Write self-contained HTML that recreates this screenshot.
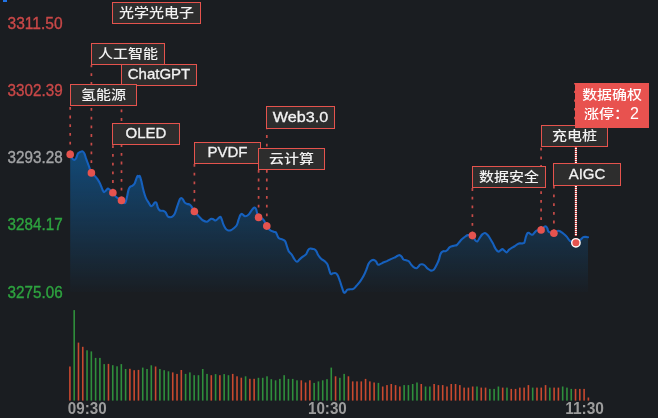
<!DOCTYPE html>
<html><head><meta charset="utf-8"><title>分时图</title>
<style>
html,body{margin:0;padding:0;background:#1a1d21;}
body{width:658px;height:418px;overflow:hidden;position:relative;}
svg{position:absolute;left:0;top:0;display:block;will-change:transform;}
.lt{font-family:"Liberation Sans","Noto Sans CJK SC",sans-serif;font-size:15px;fill:#f2f2f2;text-anchor:middle;}
.cj{font-weight:500;}
.rt{font-family:"Liberation Sans","Noto Sans CJK SC",sans-serif;font-size:15px;fill:#ffffff;text-anchor:middle;}
.yl{font-family:"Liberation Sans","Noto Sans CJK SC",sans-serif;font-size:15.6px;}
.tl{font-family:"Liberation Sans","Noto Sans CJK SC",sans-serif;font-size:16px;font-weight:bold;fill:#9c9c9c;}
</style></head>
<body>
<svg width="658" height="418" viewBox="0 0 658 418">
<defs><linearGradient id="ag" x1="0" y1="150" x2="0" y2="292" gradientUnits="userSpaceOnUse"><stop offset="0" stop-color="#0e69b4" stop-opacity="0.6"/><stop offset="1" stop-color="#0e69b4" stop-opacity="0.02"/></linearGradient><filter id="lb" x="-5%" y="-5%" width="110%" height="110%"><feGaussianBlur stdDeviation="0.5"/></filter></defs>
<rect x="3" y="0" width="4" height="2" fill="#2173e6"/>
<path d="M70.20,154.40 C70.60,155.15 71.87,158.00 72.60,158.90 C73.33,159.80 74.00,159.95 74.60,159.80 C75.20,159.65 75.63,159.07 76.20,158.00 C76.77,156.93 77.35,154.40 78.00,153.40 C78.65,152.40 79.32,152.33 80.10,152.00 C80.88,151.67 81.97,151.10 82.70,151.40 C83.43,151.70 83.90,152.50 84.50,153.80 C85.10,155.10 85.60,157.22 86.30,159.20 C87.00,161.18 87.85,163.42 88.70,165.70 C89.55,167.98 90.40,171.20 91.40,172.90 C92.40,174.60 93.72,174.90 94.70,175.90 C95.68,176.90 96.40,177.60 97.30,178.90 C98.20,180.20 99.23,181.90 100.10,183.70 C100.97,185.50 101.85,188.30 102.50,189.70 C103.15,191.10 103.40,192.00 104.00,192.10 C104.60,192.20 105.37,190.87 106.10,190.30 C106.83,189.73 107.27,188.28 108.40,188.70 C109.53,189.12 111.55,191.37 112.90,192.80 C114.25,194.23 115.07,196.03 116.50,197.30 C117.93,198.57 120.07,199.45 121.50,200.40 C122.93,201.35 124.15,203.75 125.10,203.00 C126.05,202.25 126.63,198.10 127.20,195.90 C127.77,193.70 128.00,191.32 128.50,189.80 C129.00,188.28 129.57,187.45 130.20,186.80 C130.83,186.15 131.58,186.40 132.30,185.90 C133.02,185.40 133.92,184.73 134.50,183.80 C135.08,182.87 135.32,181.58 135.80,180.30 C136.28,179.02 136.93,176.68 137.40,176.10 C137.87,175.52 138.20,176.80 138.60,176.80 C139.00,176.80 139.33,175.37 139.80,176.10 C140.27,176.83 140.85,179.05 141.40,181.20 C141.95,183.35 142.53,186.70 143.10,189.00 C143.67,191.30 144.28,193.40 144.80,195.00 C145.32,196.60 145.55,197.30 146.20,198.60 C146.85,199.90 147.92,201.55 148.70,202.80 C149.48,204.05 150.18,205.75 150.90,206.10 C151.62,206.45 152.33,205.52 153.00,204.90 C153.67,204.28 154.32,202.72 154.90,202.40 C155.48,202.08 155.98,202.07 156.50,203.00 C157.02,203.93 157.43,206.75 158.00,208.00 C158.57,209.25 159.07,210.03 159.90,210.50 C160.73,210.97 162.07,210.50 163.00,210.80 C163.93,211.10 164.77,211.47 165.50,212.30 C166.23,213.13 166.78,215.00 167.40,215.80 C168.02,216.60 168.38,216.95 169.20,217.10 C170.02,217.25 171.37,217.28 172.30,216.70 C173.23,216.12 173.97,215.37 174.80,213.60 C175.63,211.83 176.47,208.48 177.30,206.10 C178.13,203.72 179.13,200.65 179.80,199.30 C180.47,197.95 180.78,198.00 181.30,198.00 C181.82,198.00 182.32,198.53 182.90,199.30 C183.48,200.07 184.07,201.83 184.80,202.60 C185.53,203.37 186.47,203.57 187.30,203.90 C188.13,204.23 189.05,204.12 189.80,204.60 C190.55,205.08 191.07,205.70 191.80,206.80 C192.53,207.90 193.30,209.92 194.20,211.20 C195.10,212.48 196.20,213.40 197.20,214.50 C198.20,215.60 199.20,216.80 200.20,217.80 C201.20,218.80 202.10,219.85 203.20,220.50 C204.30,221.15 205.80,221.75 206.80,221.70 C207.80,221.65 208.45,220.70 209.20,220.20 C209.95,219.70 210.62,218.85 211.30,218.70 C211.98,218.55 212.57,219.00 213.30,219.30 C214.03,219.60 214.90,220.63 215.70,220.50 C216.50,220.37 217.30,219.10 218.10,218.50 C218.90,217.90 219.90,216.77 220.50,216.90 C221.10,217.03 221.20,218.00 221.70,219.30 C222.20,220.60 222.85,223.15 223.50,224.70 C224.15,226.25 224.82,227.65 225.60,228.60 C226.38,229.55 227.33,230.13 228.20,230.40 C229.07,230.67 229.87,230.57 230.80,230.20 C231.73,229.83 232.82,229.02 233.80,228.20 C234.78,227.38 235.92,226.68 236.70,225.30 C237.48,223.92 237.90,221.60 238.50,219.90 C239.10,218.20 239.70,216.10 240.30,215.10 C240.90,214.10 241.30,213.70 242.10,213.90 C242.90,214.10 244.00,216.20 245.10,216.30 C246.20,216.40 247.62,215.50 248.70,214.50 C249.78,213.50 250.68,211.45 251.60,210.30 C252.52,209.15 253.43,207.77 254.20,207.60 C254.97,207.43 255.50,207.70 256.20,209.30 C256.90,210.90 257.23,215.52 258.40,217.20 C259.57,218.88 261.78,217.92 263.20,219.40 C264.62,220.88 265.73,224.28 266.90,226.10 C268.07,227.92 269.00,229.33 270.20,230.30 C271.40,231.27 273.13,231.53 274.10,231.90 C275.07,232.27 275.23,231.48 276.00,232.50 C276.77,233.52 277.63,236.85 278.70,238.00 C279.77,239.15 281.33,238.87 282.40,239.40 C283.47,239.93 284.35,240.07 285.10,241.20 C285.85,242.33 286.30,244.53 286.90,246.20 C287.50,247.87 287.87,249.77 288.70,251.20 C289.53,252.63 290.98,253.52 291.90,254.80 C292.82,256.08 293.37,257.73 294.20,258.90 C295.03,260.07 296.00,261.72 296.90,261.80 C297.80,261.88 298.62,260.27 299.60,259.40 C300.58,258.53 301.73,257.43 302.80,256.60 C303.87,255.77 305.08,255.53 306.00,254.40 C306.92,253.27 307.55,250.78 308.30,249.80 C309.05,248.82 309.82,248.65 310.50,248.50 C311.18,248.35 311.78,248.78 312.40,248.90 C313.02,249.02 313.55,248.83 314.20,249.20 C314.85,249.57 315.62,250.08 316.30,251.10 C316.98,252.12 317.50,254.02 318.30,255.30 C319.10,256.58 320.05,257.83 321.10,258.80 C322.15,259.77 323.55,260.18 324.60,261.10 C325.65,262.02 326.63,262.83 327.40,264.30 C328.17,265.77 328.63,268.28 329.20,269.90 C329.77,271.52 330.18,273.43 330.80,274.00 C331.42,274.57 332.08,273.45 332.90,273.30 C333.72,273.15 334.88,272.75 335.70,273.10 C336.52,273.45 337.10,274.08 337.80,275.40 C338.50,276.72 339.22,279.03 339.90,281.00 C340.58,282.97 341.25,285.28 341.90,287.20 C342.55,289.12 343.22,291.68 343.80,292.50 C344.38,293.32 344.78,292.57 345.40,292.10 C346.02,291.63 346.68,290.17 347.50,289.70 C348.32,289.23 349.33,289.43 350.30,289.30 C351.27,289.17 352.27,289.48 353.30,288.90 C354.33,288.32 355.38,287.00 356.50,285.80 C357.62,284.60 358.83,283.32 360.00,281.70 C361.17,280.08 362.45,278.07 363.50,276.10 C364.55,274.13 365.50,271.87 366.30,269.90 C367.10,267.93 367.62,265.75 368.30,264.30 C368.98,262.85 369.58,261.93 370.40,261.20 C371.22,260.47 372.28,259.88 373.20,259.90 C374.12,259.92 375.10,260.50 375.90,261.30 C376.70,262.10 377.22,264.27 378.00,264.70 C378.78,265.13 379.63,264.30 380.60,263.90 C381.57,263.50 382.73,262.77 383.80,262.30 C384.87,261.83 385.85,261.63 387.00,261.10 C388.15,260.57 389.45,259.68 390.70,259.10 C391.95,258.52 393.33,258.17 394.50,257.60 C395.67,257.03 396.82,256.10 397.70,255.70 C398.58,255.30 399.13,255.02 399.80,255.20 C400.47,255.38 401.08,256.08 401.70,256.80 C402.32,257.52 402.75,258.93 403.50,259.50 C404.25,260.07 405.32,259.90 406.20,260.20 C407.08,260.50 408.00,260.62 408.80,261.30 C409.60,261.98 410.20,263.33 411.00,264.30 C411.80,265.27 412.67,266.45 413.60,267.10 C414.53,267.75 415.80,268.28 416.60,268.20 C417.40,268.12 417.83,267.18 418.40,266.60 C418.97,266.02 419.38,265.08 420.00,264.70 C420.62,264.32 421.30,264.17 422.10,264.30 C422.90,264.43 424.00,264.90 424.80,265.50 C425.60,266.10 426.37,267.35 426.90,267.90 C427.43,268.45 427.33,268.35 428.00,268.80 C428.67,269.25 429.95,270.43 430.90,270.60 C431.85,270.77 432.87,270.52 433.70,269.80 C434.53,269.08 435.23,267.48 435.90,266.30 C436.57,265.12 437.17,263.90 437.70,262.70 C438.23,261.50 438.68,260.42 439.10,259.10 C439.52,257.78 439.78,255.93 440.20,254.80 C440.62,253.67 441.07,252.90 441.60,252.30 C442.13,251.70 442.73,251.38 443.40,251.20 C444.07,251.02 444.93,251.38 445.60,251.20 C446.27,251.02 446.80,250.70 447.40,250.10 C448.00,249.50 448.43,248.25 449.20,247.60 C449.97,246.95 451.18,246.52 452.00,246.20 C452.82,245.88 453.30,245.90 454.10,245.70 C454.90,245.50 456.00,245.52 456.80,245.00 C457.60,244.48 458.02,243.58 458.90,242.60 C459.78,241.62 461.03,240.12 462.10,239.10 C463.17,238.08 464.32,237.17 465.30,236.50 C466.28,235.83 466.77,235.25 468.00,235.10 C469.23,234.95 471.55,234.80 472.70,235.60 C473.85,236.40 474.13,238.92 474.90,239.90 C475.67,240.88 476.50,241.85 477.30,241.50 C478.10,241.15 478.87,238.98 479.70,237.80 C480.53,236.62 481.42,235.20 482.30,234.40 C483.18,233.60 484.07,232.87 485.00,233.00 C485.93,233.13 486.98,234.17 487.90,235.20 C488.82,236.23 489.65,237.80 490.50,239.20 C491.35,240.60 492.15,241.98 493.00,243.60 C493.85,245.22 494.72,247.57 495.60,248.90 C496.48,250.23 497.50,251.35 498.30,251.60 C499.10,251.85 499.72,250.82 500.40,250.40 C501.08,249.98 501.75,249.08 502.40,249.10 C503.05,249.12 503.58,249.95 504.30,250.50 C505.02,251.05 505.90,252.55 506.70,252.40 C507.50,252.25 508.22,250.38 509.10,249.60 C509.98,248.82 511.05,248.27 512.00,247.70 C512.95,247.13 513.93,246.77 514.80,246.20 C515.67,245.63 516.40,244.77 517.20,244.30 C518.00,243.83 518.72,243.55 519.60,243.40 C520.48,243.25 521.70,243.57 522.50,243.40 C523.30,243.23 523.85,243.45 524.40,242.40 C524.95,241.35 525.32,238.62 525.80,237.10 C526.28,235.58 526.82,234.02 527.30,233.30 C527.78,232.58 528.15,232.67 528.70,232.80 C529.25,232.93 529.97,233.78 530.60,234.10 C531.23,234.42 531.87,234.92 532.50,234.70 C533.13,234.48 533.68,233.52 534.40,232.80 C535.12,232.08 535.67,230.87 536.80,230.40 C537.93,229.93 540.00,230.55 541.20,230.00 C542.40,229.45 543.22,227.70 544.00,227.10 C544.78,226.50 545.33,226.17 545.90,226.40 C546.47,226.63 546.92,227.58 547.40,228.50 C547.88,229.42 547.68,231.13 548.80,231.90 C549.92,232.67 552.55,233.28 554.10,233.10 C555.65,232.92 556.95,231.02 558.10,230.80 C559.25,230.58 559.98,231.22 561.00,231.80 C562.02,232.38 563.18,233.42 564.20,234.30 C565.22,235.18 566.15,236.02 567.10,237.10 C568.05,238.18 568.48,239.85 569.90,240.80 C571.32,241.75 573.77,243.05 575.60,242.80 C577.43,242.55 579.62,240.25 580.90,239.30 C582.18,238.35 582.48,237.50 583.30,237.10 C584.12,236.70 585.02,236.87 585.80,236.90 C586.58,236.93 587.63,237.23 588.00,237.30 L588,292 L70.2,292 Z" fill="url(#ag)"/>
<path d="M70.20,154.40 C70.60,155.15 71.87,158.00 72.60,158.90 C73.33,159.80 74.00,159.95 74.60,159.80 C75.20,159.65 75.63,159.07 76.20,158.00 C76.77,156.93 77.35,154.40 78.00,153.40 C78.65,152.40 79.32,152.33 80.10,152.00 C80.88,151.67 81.97,151.10 82.70,151.40 C83.43,151.70 83.90,152.50 84.50,153.80 C85.10,155.10 85.60,157.22 86.30,159.20 C87.00,161.18 87.85,163.42 88.70,165.70 C89.55,167.98 90.40,171.20 91.40,172.90 C92.40,174.60 93.72,174.90 94.70,175.90 C95.68,176.90 96.40,177.60 97.30,178.90 C98.20,180.20 99.23,181.90 100.10,183.70 C100.97,185.50 101.85,188.30 102.50,189.70 C103.15,191.10 103.40,192.00 104.00,192.10 C104.60,192.20 105.37,190.87 106.10,190.30 C106.83,189.73 107.27,188.28 108.40,188.70 C109.53,189.12 111.55,191.37 112.90,192.80 C114.25,194.23 115.07,196.03 116.50,197.30 C117.93,198.57 120.07,199.45 121.50,200.40 C122.93,201.35 124.15,203.75 125.10,203.00 C126.05,202.25 126.63,198.10 127.20,195.90 C127.77,193.70 128.00,191.32 128.50,189.80 C129.00,188.28 129.57,187.45 130.20,186.80 C130.83,186.15 131.58,186.40 132.30,185.90 C133.02,185.40 133.92,184.73 134.50,183.80 C135.08,182.87 135.32,181.58 135.80,180.30 C136.28,179.02 136.93,176.68 137.40,176.10 C137.87,175.52 138.20,176.80 138.60,176.80 C139.00,176.80 139.33,175.37 139.80,176.10 C140.27,176.83 140.85,179.05 141.40,181.20 C141.95,183.35 142.53,186.70 143.10,189.00 C143.67,191.30 144.28,193.40 144.80,195.00 C145.32,196.60 145.55,197.30 146.20,198.60 C146.85,199.90 147.92,201.55 148.70,202.80 C149.48,204.05 150.18,205.75 150.90,206.10 C151.62,206.45 152.33,205.52 153.00,204.90 C153.67,204.28 154.32,202.72 154.90,202.40 C155.48,202.08 155.98,202.07 156.50,203.00 C157.02,203.93 157.43,206.75 158.00,208.00 C158.57,209.25 159.07,210.03 159.90,210.50 C160.73,210.97 162.07,210.50 163.00,210.80 C163.93,211.10 164.77,211.47 165.50,212.30 C166.23,213.13 166.78,215.00 167.40,215.80 C168.02,216.60 168.38,216.95 169.20,217.10 C170.02,217.25 171.37,217.28 172.30,216.70 C173.23,216.12 173.97,215.37 174.80,213.60 C175.63,211.83 176.47,208.48 177.30,206.10 C178.13,203.72 179.13,200.65 179.80,199.30 C180.47,197.95 180.78,198.00 181.30,198.00 C181.82,198.00 182.32,198.53 182.90,199.30 C183.48,200.07 184.07,201.83 184.80,202.60 C185.53,203.37 186.47,203.57 187.30,203.90 C188.13,204.23 189.05,204.12 189.80,204.60 C190.55,205.08 191.07,205.70 191.80,206.80 C192.53,207.90 193.30,209.92 194.20,211.20 C195.10,212.48 196.20,213.40 197.20,214.50 C198.20,215.60 199.20,216.80 200.20,217.80 C201.20,218.80 202.10,219.85 203.20,220.50 C204.30,221.15 205.80,221.75 206.80,221.70 C207.80,221.65 208.45,220.70 209.20,220.20 C209.95,219.70 210.62,218.85 211.30,218.70 C211.98,218.55 212.57,219.00 213.30,219.30 C214.03,219.60 214.90,220.63 215.70,220.50 C216.50,220.37 217.30,219.10 218.10,218.50 C218.90,217.90 219.90,216.77 220.50,216.90 C221.10,217.03 221.20,218.00 221.70,219.30 C222.20,220.60 222.85,223.15 223.50,224.70 C224.15,226.25 224.82,227.65 225.60,228.60 C226.38,229.55 227.33,230.13 228.20,230.40 C229.07,230.67 229.87,230.57 230.80,230.20 C231.73,229.83 232.82,229.02 233.80,228.20 C234.78,227.38 235.92,226.68 236.70,225.30 C237.48,223.92 237.90,221.60 238.50,219.90 C239.10,218.20 239.70,216.10 240.30,215.10 C240.90,214.10 241.30,213.70 242.10,213.90 C242.90,214.10 244.00,216.20 245.10,216.30 C246.20,216.40 247.62,215.50 248.70,214.50 C249.78,213.50 250.68,211.45 251.60,210.30 C252.52,209.15 253.43,207.77 254.20,207.60 C254.97,207.43 255.50,207.70 256.20,209.30 C256.90,210.90 257.23,215.52 258.40,217.20 C259.57,218.88 261.78,217.92 263.20,219.40 C264.62,220.88 265.73,224.28 266.90,226.10 C268.07,227.92 269.00,229.33 270.20,230.30 C271.40,231.27 273.13,231.53 274.10,231.90 C275.07,232.27 275.23,231.48 276.00,232.50 C276.77,233.52 277.63,236.85 278.70,238.00 C279.77,239.15 281.33,238.87 282.40,239.40 C283.47,239.93 284.35,240.07 285.10,241.20 C285.85,242.33 286.30,244.53 286.90,246.20 C287.50,247.87 287.87,249.77 288.70,251.20 C289.53,252.63 290.98,253.52 291.90,254.80 C292.82,256.08 293.37,257.73 294.20,258.90 C295.03,260.07 296.00,261.72 296.90,261.80 C297.80,261.88 298.62,260.27 299.60,259.40 C300.58,258.53 301.73,257.43 302.80,256.60 C303.87,255.77 305.08,255.53 306.00,254.40 C306.92,253.27 307.55,250.78 308.30,249.80 C309.05,248.82 309.82,248.65 310.50,248.50 C311.18,248.35 311.78,248.78 312.40,248.90 C313.02,249.02 313.55,248.83 314.20,249.20 C314.85,249.57 315.62,250.08 316.30,251.10 C316.98,252.12 317.50,254.02 318.30,255.30 C319.10,256.58 320.05,257.83 321.10,258.80 C322.15,259.77 323.55,260.18 324.60,261.10 C325.65,262.02 326.63,262.83 327.40,264.30 C328.17,265.77 328.63,268.28 329.20,269.90 C329.77,271.52 330.18,273.43 330.80,274.00 C331.42,274.57 332.08,273.45 332.90,273.30 C333.72,273.15 334.88,272.75 335.70,273.10 C336.52,273.45 337.10,274.08 337.80,275.40 C338.50,276.72 339.22,279.03 339.90,281.00 C340.58,282.97 341.25,285.28 341.90,287.20 C342.55,289.12 343.22,291.68 343.80,292.50 C344.38,293.32 344.78,292.57 345.40,292.10 C346.02,291.63 346.68,290.17 347.50,289.70 C348.32,289.23 349.33,289.43 350.30,289.30 C351.27,289.17 352.27,289.48 353.30,288.90 C354.33,288.32 355.38,287.00 356.50,285.80 C357.62,284.60 358.83,283.32 360.00,281.70 C361.17,280.08 362.45,278.07 363.50,276.10 C364.55,274.13 365.50,271.87 366.30,269.90 C367.10,267.93 367.62,265.75 368.30,264.30 C368.98,262.85 369.58,261.93 370.40,261.20 C371.22,260.47 372.28,259.88 373.20,259.90 C374.12,259.92 375.10,260.50 375.90,261.30 C376.70,262.10 377.22,264.27 378.00,264.70 C378.78,265.13 379.63,264.30 380.60,263.90 C381.57,263.50 382.73,262.77 383.80,262.30 C384.87,261.83 385.85,261.63 387.00,261.10 C388.15,260.57 389.45,259.68 390.70,259.10 C391.95,258.52 393.33,258.17 394.50,257.60 C395.67,257.03 396.82,256.10 397.70,255.70 C398.58,255.30 399.13,255.02 399.80,255.20 C400.47,255.38 401.08,256.08 401.70,256.80 C402.32,257.52 402.75,258.93 403.50,259.50 C404.25,260.07 405.32,259.90 406.20,260.20 C407.08,260.50 408.00,260.62 408.80,261.30 C409.60,261.98 410.20,263.33 411.00,264.30 C411.80,265.27 412.67,266.45 413.60,267.10 C414.53,267.75 415.80,268.28 416.60,268.20 C417.40,268.12 417.83,267.18 418.40,266.60 C418.97,266.02 419.38,265.08 420.00,264.70 C420.62,264.32 421.30,264.17 422.10,264.30 C422.90,264.43 424.00,264.90 424.80,265.50 C425.60,266.10 426.37,267.35 426.90,267.90 C427.43,268.45 427.33,268.35 428.00,268.80 C428.67,269.25 429.95,270.43 430.90,270.60 C431.85,270.77 432.87,270.52 433.70,269.80 C434.53,269.08 435.23,267.48 435.90,266.30 C436.57,265.12 437.17,263.90 437.70,262.70 C438.23,261.50 438.68,260.42 439.10,259.10 C439.52,257.78 439.78,255.93 440.20,254.80 C440.62,253.67 441.07,252.90 441.60,252.30 C442.13,251.70 442.73,251.38 443.40,251.20 C444.07,251.02 444.93,251.38 445.60,251.20 C446.27,251.02 446.80,250.70 447.40,250.10 C448.00,249.50 448.43,248.25 449.20,247.60 C449.97,246.95 451.18,246.52 452.00,246.20 C452.82,245.88 453.30,245.90 454.10,245.70 C454.90,245.50 456.00,245.52 456.80,245.00 C457.60,244.48 458.02,243.58 458.90,242.60 C459.78,241.62 461.03,240.12 462.10,239.10 C463.17,238.08 464.32,237.17 465.30,236.50 C466.28,235.83 466.77,235.25 468.00,235.10 C469.23,234.95 471.55,234.80 472.70,235.60 C473.85,236.40 474.13,238.92 474.90,239.90 C475.67,240.88 476.50,241.85 477.30,241.50 C478.10,241.15 478.87,238.98 479.70,237.80 C480.53,236.62 481.42,235.20 482.30,234.40 C483.18,233.60 484.07,232.87 485.00,233.00 C485.93,233.13 486.98,234.17 487.90,235.20 C488.82,236.23 489.65,237.80 490.50,239.20 C491.35,240.60 492.15,241.98 493.00,243.60 C493.85,245.22 494.72,247.57 495.60,248.90 C496.48,250.23 497.50,251.35 498.30,251.60 C499.10,251.85 499.72,250.82 500.40,250.40 C501.08,249.98 501.75,249.08 502.40,249.10 C503.05,249.12 503.58,249.95 504.30,250.50 C505.02,251.05 505.90,252.55 506.70,252.40 C507.50,252.25 508.22,250.38 509.10,249.60 C509.98,248.82 511.05,248.27 512.00,247.70 C512.95,247.13 513.93,246.77 514.80,246.20 C515.67,245.63 516.40,244.77 517.20,244.30 C518.00,243.83 518.72,243.55 519.60,243.40 C520.48,243.25 521.70,243.57 522.50,243.40 C523.30,243.23 523.85,243.45 524.40,242.40 C524.95,241.35 525.32,238.62 525.80,237.10 C526.28,235.58 526.82,234.02 527.30,233.30 C527.78,232.58 528.15,232.67 528.70,232.80 C529.25,232.93 529.97,233.78 530.60,234.10 C531.23,234.42 531.87,234.92 532.50,234.70 C533.13,234.48 533.68,233.52 534.40,232.80 C535.12,232.08 535.67,230.87 536.80,230.40 C537.93,229.93 540.00,230.55 541.20,230.00 C542.40,229.45 543.22,227.70 544.00,227.10 C544.78,226.50 545.33,226.17 545.90,226.40 C546.47,226.63 546.92,227.58 547.40,228.50 C547.88,229.42 547.68,231.13 548.80,231.90 C549.92,232.67 552.55,233.28 554.10,233.10 C555.65,232.92 556.95,231.02 558.10,230.80 C559.25,230.58 559.98,231.22 561.00,231.80 C562.02,232.38 563.18,233.42 564.20,234.30 C565.22,235.18 566.15,236.02 567.10,237.10 C568.05,238.18 568.48,239.85 569.90,240.80 C571.32,241.75 573.77,243.05 575.60,242.80 C577.43,242.55 579.62,240.25 580.90,239.30 C582.18,238.35 582.48,237.50 583.30,237.10 C584.12,236.70 585.02,236.87 585.80,236.90 C586.58,236.93 587.63,237.23 588.00,237.30" fill="none" stroke="#1560bd" stroke-width="2.1" stroke-linejoin="round" stroke-linecap="round" filter="url(#lb)"/>
<rect x="69.10" y="366.5" width="1.6" height="34.1" fill="#c9492f"/>
<rect x="73.39" y="310.1" width="1.6" height="90.5" fill="#2f8f3c"/>
<rect x="77.67" y="342.6" width="1.6" height="58.0" fill="#c9492f"/>
<rect x="81.96" y="346.8" width="1.6" height="53.8" fill="#c9492f"/>
<rect x="86.24" y="350.3" width="1.6" height="50.3" fill="#2f8f3c"/>
<rect x="90.53" y="351.4" width="1.6" height="49.2" fill="#2f8f3c"/>
<rect x="94.81" y="357.9" width="1.6" height="42.7" fill="#2f8f3c"/>
<rect x="99.10" y="357.9" width="1.6" height="42.7" fill="#2f8f3c"/>
<rect x="103.38" y="364.1" width="1.6" height="36.5" fill="#2f8f3c"/>
<rect x="107.67" y="363.9" width="1.6" height="36.7" fill="#c9492f"/>
<rect x="111.95" y="365.2" width="1.6" height="35.4" fill="#2f8f3c"/>
<rect x="116.24" y="366.3" width="1.6" height="34.3" fill="#2f8f3c"/>
<rect x="120.52" y="364.1" width="1.6" height="36.5" fill="#2f8f3c"/>
<rect x="124.81" y="369.0" width="1.6" height="31.6" fill="#2f8f3c"/>
<rect x="129.09" y="368.8" width="1.6" height="31.8" fill="#c9492f"/>
<rect x="133.38" y="370.2" width="1.6" height="30.4" fill="#c9492f"/>
<rect x="137.66" y="369.9" width="1.6" height="30.7" fill="#c9492f"/>
<rect x="141.94" y="367.6" width="1.6" height="33.0" fill="#2f8f3c"/>
<rect x="146.23" y="369.0" width="1.6" height="31.6" fill="#2f8f3c"/>
<rect x="150.51" y="365.3" width="1.6" height="35.3" fill="#2f8f3c"/>
<rect x="154.80" y="366.5" width="1.6" height="34.1" fill="#c9492f"/>
<rect x="159.08" y="369.0" width="1.6" height="31.6" fill="#2f8f3c"/>
<rect x="163.37" y="370.2" width="1.6" height="30.4" fill="#2f8f3c"/>
<rect x="167.66" y="371.3" width="1.6" height="29.3" fill="#2f8f3c"/>
<rect x="171.94" y="372.4" width="1.6" height="28.2" fill="#c9492f"/>
<rect x="176.22" y="373.9" width="1.6" height="26.7" fill="#c9492f"/>
<rect x="180.51" y="370.0" width="1.6" height="30.6" fill="#c9492f"/>
<rect x="184.80" y="373.9" width="1.6" height="26.7" fill="#2f8f3c"/>
<rect x="189.08" y="372.4" width="1.6" height="28.2" fill="#2f8f3c"/>
<rect x="193.37" y="375.2" width="1.6" height="25.4" fill="#2f8f3c"/>
<rect x="197.65" y="375.2" width="1.6" height="25.4" fill="#2f8f3c"/>
<rect x="201.94" y="369.0" width="1.6" height="31.6" fill="#2f8f3c"/>
<rect x="206.22" y="373.9" width="1.6" height="26.7" fill="#2f8f3c"/>
<rect x="210.50" y="375.2" width="1.6" height="25.4" fill="#c9492f"/>
<rect x="214.79" y="374.1" width="1.6" height="26.5" fill="#2f8f3c"/>
<rect x="219.07" y="375.2" width="1.6" height="25.4" fill="#c9492f"/>
<rect x="223.36" y="374.1" width="1.6" height="26.5" fill="#2f8f3c"/>
<rect x="227.65" y="375.2" width="1.6" height="25.4" fill="#2f8f3c"/>
<rect x="231.93" y="373.9" width="1.6" height="26.7" fill="#c9492f"/>
<rect x="236.22" y="376.3" width="1.6" height="24.3" fill="#c9492f"/>
<rect x="240.50" y="377.7" width="1.6" height="22.9" fill="#c9492f"/>
<rect x="244.78" y="376.3" width="1.6" height="24.3" fill="#2f8f3c"/>
<rect x="249.07" y="378.8" width="1.6" height="21.8" fill="#c9492f"/>
<rect x="253.35" y="378.8" width="1.6" height="21.8" fill="#c9492f"/>
<rect x="257.64" y="377.8" width="1.6" height="22.8" fill="#2f8f3c"/>
<rect x="261.93" y="377.8" width="1.6" height="22.8" fill="#2f8f3c"/>
<rect x="266.21" y="376.3" width="1.6" height="24.3" fill="#2f8f3c"/>
<rect x="270.50" y="379.2" width="1.6" height="21.4" fill="#2f8f3c"/>
<rect x="274.78" y="380.3" width="1.6" height="20.3" fill="#2f8f3c"/>
<rect x="279.06" y="378.9" width="1.6" height="21.7" fill="#2f8f3c"/>
<rect x="283.35" y="375.2" width="1.6" height="25.4" fill="#2f8f3c"/>
<rect x="287.63" y="378.9" width="1.6" height="21.7" fill="#2f8f3c"/>
<rect x="291.92" y="378.9" width="1.6" height="21.7" fill="#2f8f3c"/>
<rect x="296.20" y="380.3" width="1.6" height="20.3" fill="#2f8f3c"/>
<rect x="300.49" y="380.3" width="1.6" height="20.3" fill="#c9492f"/>
<rect x="304.78" y="382.5" width="1.6" height="18.1" fill="#c9492f"/>
<rect x="309.06" y="380.3" width="1.6" height="20.3" fill="#c9492f"/>
<rect x="313.34" y="382.9" width="1.6" height="17.7" fill="#2f8f3c"/>
<rect x="317.63" y="381.4" width="1.6" height="19.2" fill="#2f8f3c"/>
<rect x="321.92" y="380.3" width="1.6" height="20.3" fill="#2f8f3c"/>
<rect x="326.20" y="379.2" width="1.6" height="21.4" fill="#2f8f3c"/>
<rect x="330.48" y="367.6" width="1.6" height="33.0" fill="#2f8f3c"/>
<rect x="334.77" y="376.3" width="1.6" height="24.3" fill="#c9492f"/>
<rect x="339.06" y="377.8" width="1.6" height="22.8" fill="#2f8f3c"/>
<rect x="343.34" y="373.9" width="1.6" height="26.7" fill="#2f8f3c"/>
<rect x="347.63" y="376.3" width="1.6" height="24.3" fill="#c9492f"/>
<rect x="351.91" y="381.4" width="1.6" height="19.2" fill="#c9492f"/>
<rect x="356.19" y="381.4" width="1.6" height="19.2" fill="#c9492f"/>
<rect x="360.48" y="381.4" width="1.6" height="19.2" fill="#c9492f"/>
<rect x="364.77" y="378.9" width="1.6" height="21.7" fill="#c9492f"/>
<rect x="369.05" y="381.4" width="1.6" height="19.2" fill="#c9492f"/>
<rect x="373.33" y="382.5" width="1.6" height="18.1" fill="#c9492f"/>
<rect x="377.62" y="382.9" width="1.6" height="17.7" fill="#2f8f3c"/>
<rect x="381.91" y="386.5" width="1.6" height="14.1" fill="#c9492f"/>
<rect x="386.19" y="385.1" width="1.6" height="15.5" fill="#c9492f"/>
<rect x="390.47" y="384.0" width="1.6" height="16.6" fill="#c9492f"/>
<rect x="394.76" y="385.1" width="1.6" height="15.5" fill="#c9492f"/>
<rect x="399.05" y="386.5" width="1.6" height="14.1" fill="#c9492f"/>
<rect x="403.33" y="385.1" width="1.6" height="15.5" fill="#2f8f3c"/>
<rect x="407.61" y="385.1" width="1.6" height="15.5" fill="#2f8f3c"/>
<rect x="411.90" y="384.0" width="1.6" height="16.6" fill="#2f8f3c"/>
<rect x="416.19" y="382.5" width="1.6" height="18.1" fill="#2f8f3c"/>
<rect x="420.47" y="384.0" width="1.6" height="16.6" fill="#c9492f"/>
<rect x="424.76" y="386.5" width="1.6" height="14.1" fill="#2f8f3c"/>
<rect x="429.04" y="386.5" width="1.6" height="14.1" fill="#2f8f3c"/>
<rect x="433.32" y="384.0" width="1.6" height="16.6" fill="#c9492f"/>
<rect x="437.61" y="385.1" width="1.6" height="15.5" fill="#c9492f"/>
<rect x="441.90" y="385.1" width="1.6" height="15.5" fill="#c9492f"/>
<rect x="446.18" y="386.5" width="1.6" height="14.1" fill="#c9492f"/>
<rect x="450.46" y="384.0" width="1.6" height="16.6" fill="#c9492f"/>
<rect x="454.75" y="384.0" width="1.6" height="16.6" fill="#c9492f"/>
<rect x="459.04" y="385.1" width="1.6" height="15.5" fill="#c9492f"/>
<rect x="463.32" y="387.6" width="1.6" height="13.0" fill="#c9492f"/>
<rect x="467.60" y="387.6" width="1.6" height="13.0" fill="#c9492f"/>
<rect x="471.89" y="386.5" width="1.6" height="14.1" fill="#c9492f"/>
<rect x="476.18" y="386.5" width="1.6" height="14.1" fill="#2f8f3c"/>
<rect x="480.46" y="387.6" width="1.6" height="13.0" fill="#c9492f"/>
<rect x="484.75" y="387.6" width="1.6" height="13.0" fill="#c9492f"/>
<rect x="489.03" y="388.9" width="1.6" height="11.7" fill="#2f8f3c"/>
<rect x="493.31" y="388.9" width="1.6" height="11.7" fill="#2f8f3c"/>
<rect x="497.60" y="386.5" width="1.6" height="14.1" fill="#2f8f3c"/>
<rect x="501.89" y="387.6" width="1.6" height="13.0" fill="#c9492f"/>
<rect x="506.17" y="387.6" width="1.6" height="13.0" fill="#2f8f3c"/>
<rect x="510.45" y="388.9" width="1.6" height="11.7" fill="#c9492f"/>
<rect x="514.74" y="388.9" width="1.6" height="11.7" fill="#c9492f"/>
<rect x="519.03" y="387.6" width="1.6" height="13.0" fill="#c9492f"/>
<rect x="523.31" y="387.6" width="1.6" height="13.0" fill="#c9492f"/>
<rect x="527.60" y="385.1" width="1.6" height="15.5" fill="#c9492f"/>
<rect x="531.88" y="387.6" width="1.6" height="13.0" fill="#2f8f3c"/>
<rect x="536.17" y="387.6" width="1.6" height="13.0" fill="#c9492f"/>
<rect x="540.45" y="387.6" width="1.6" height="13.0" fill="#c9492f"/>
<rect x="544.74" y="385.1" width="1.6" height="15.5" fill="#c9492f"/>
<rect x="549.02" y="387.6" width="1.6" height="13.0" fill="#2f8f3c"/>
<rect x="553.31" y="387.6" width="1.6" height="13.0" fill="#c9492f"/>
<rect x="557.59" y="387.6" width="1.6" height="13.0" fill="#c9492f"/>
<rect x="561.88" y="386.5" width="1.6" height="14.1" fill="#2f8f3c"/>
<rect x="566.16" y="387.6" width="1.6" height="13.0" fill="#2f8f3c"/>
<rect x="570.45" y="388.9" width="1.6" height="11.7" fill="#2f8f3c"/>
<rect x="574.73" y="388.9" width="1.6" height="11.7" fill="#c9492f"/>
<rect x="579.02" y="388.9" width="1.6" height="11.7" fill="#c9492f"/>
<rect x="583.30" y="388.9" width="1.6" height="11.7" fill="#c9492f"/>
<rect x="587.59" y="397.5" width="1.6" height="3.1" fill="#c9492f"/>
<line x1="70.2" y1="154.4" x2="70.2" y2="106" stroke="#e5534f" stroke-width="1.7" stroke-dasharray="2.8 5.9" stroke-dashoffset="7.5" stroke-opacity="0.85"/>
<line x1="91.4" y1="172.9" x2="91.4" y2="65" stroke="#e5534f" stroke-width="1.7" stroke-dasharray="2.8 5.9" stroke-dashoffset="7.5" stroke-opacity="0.85"/>
<line x1="112.9" y1="192.8" x2="112.9" y2="145" stroke="#e5534f" stroke-width="1.7" stroke-dasharray="2.8 5.9" stroke-dashoffset="7.5" stroke-opacity="0.85"/>
<line x1="121.5" y1="200.4" x2="121.5" y2="86" stroke="#e5534f" stroke-width="1.7" stroke-dasharray="2.8 5.9" stroke-dashoffset="7.5" stroke-opacity="0.85"/>
<line x1="194.4" y1="211.5" x2="194.4" y2="164" stroke="#e5534f" stroke-width="1.7" stroke-dasharray="2.8 5.9" stroke-dashoffset="7.5" stroke-opacity="0.85"/>
<line x1="258.6" y1="217.4" x2="258.6" y2="170" stroke="#e5534f" stroke-width="1.7" stroke-dasharray="2.8 5.9" stroke-dashoffset="7.5" stroke-opacity="0.85"/>
<line x1="266.8" y1="226.1" x2="266.8" y2="129" stroke="#e5534f" stroke-width="1.7" stroke-dasharray="2.8 5.9" stroke-dashoffset="7.5" stroke-opacity="0.85"/>
<line x1="472.4" y1="235.6" x2="472.4" y2="188" stroke="#e5534f" stroke-width="1.7" stroke-dasharray="2.8 5.9" stroke-dashoffset="7.5" stroke-opacity="0.85"/>
<line x1="541.1" y1="230.0" x2="541.1" y2="147" stroke="#e5534f" stroke-width="1.7" stroke-dasharray="2.8 5.9" stroke-dashoffset="7.5" stroke-opacity="0.85"/>
<line x1="553.9" y1="233.3" x2="553.9" y2="186" stroke="#e5534f" stroke-width="1.7" stroke-dasharray="2.8 5.9" stroke-dashoffset="7.5" stroke-opacity="0.85"/>
<line x1="575.0" y1="83" x2="575.0" y2="128" stroke="#e5534f" stroke-width="2" stroke-dasharray="2.4 6.3" stroke-dashoffset="1" stroke-opacity="0.85"/>
<line x1="575.9" y1="128" x2="575.9" y2="236.0" stroke="#e5534f" stroke-width="2"/>
<line x1="575.9" y1="128" x2="575.9" y2="236.0" stroke="#ffffff" stroke-width="2" stroke-dasharray="1 1"/>
<rect x="112.5" y="2.5" width="88.0" height="21" fill="#2d2d2d" stroke="#e5534d" stroke-width="1"/>
<text transform="translate(156.5,17.1) scale(1,0.86)" class="lt cj">光学光电子</text>
<rect x="91.5" y="43.5" width="73.0" height="21" fill="#2d2d2d" stroke="#e5534d" stroke-width="1"/>
<text transform="translate(128.0,58.1) scale(1,0.86)" class="lt cj">人工智能</text>
<rect x="121.5" y="64.5" width="75.0" height="21" fill="#2d2d2d" stroke="#e5534d" stroke-width="1"/>
<text x="159.0" y="79.2" class="lt" stroke="#f2f2f2" stroke-width="0.3">ChatGPT</text>
<rect x="70.5" y="84.5" width="66.0" height="21" fill="#2d2d2d" stroke="#e5534d" stroke-width="1"/>
<text transform="translate(103.5,99.1) scale(1,0.86)" class="lt cj">氢能源</text>
<rect x="112.5" y="123.5" width="67.0" height="21" fill="#2d2d2d" stroke="#e5534d" stroke-width="1"/>
<text x="146.0" y="138.2" class="lt" stroke="#f2f2f2" stroke-width="0.3">OLED</text>
<rect x="266.5" y="106.5" width="68.0" height="22" fill="#2d2d2d" stroke="#e5534d" stroke-width="1"/>
<text x="300.5" y="121.7" class="lt" stroke="#f2f2f2" stroke-width="0.3" textLength="55.5" lengthAdjust="spacingAndGlyphs">Web3.0</text>
<rect x="194.5" y="142.5" width="66.0" height="21" fill="#2d2d2d" stroke="#e5534d" stroke-width="1"/>
<text x="227.5" y="157.2" class="lt" stroke="#f2f2f2" stroke-width="0.3">PVDF</text>
<rect x="258.5" y="148.5" width="66.0" height="21" fill="#2d2d2d" stroke="#e5534d" stroke-width="1"/>
<text transform="translate(291.5,163.1) scale(1,0.86)" class="lt cj">云计算</text>
<rect x="472.5" y="166.5" width="73.0" height="21" fill="#2d2d2d" stroke="#e5534d" stroke-width="1"/>
<text transform="translate(509.0,181.1) scale(1,0.86)" class="lt cj">数据安全</text>
<rect x="541.5" y="125.5" width="66.0" height="21" fill="#2d2d2d" stroke="#e5534d" stroke-width="1"/>
<text transform="translate(574.5,140.1) scale(1,0.86)" class="lt cj">充电桩</text>
<rect x="553.5" y="163.5" width="67.0" height="22" fill="#2d2d2d" stroke="#e5534d" stroke-width="1"/>
<text x="587.0" y="178.7" class="lt" stroke="#f2f2f2" stroke-width="0.3">AIGC</text>
<rect x="575" y="83" width="74" height="45" fill="#e8524f"/>
<text transform="translate(612.1,98.9) scale(1,0.86)" class="rt cj">数据确权</text>
<text transform="translate(584.0,117.9) scale(1,0.86)" class="rt cj" style="text-anchor:start">涨停：</text>
<text x="630" y="118.6" class="rt" style="text-anchor:start;font-size:16px">2</text>
<circle cx="70.2" cy="154.4" r="3.8" fill="#e5534f"/>
<circle cx="91.4" cy="172.9" r="3.8" fill="#e5534f"/>
<circle cx="112.9" cy="192.8" r="3.8" fill="#e5534f"/>
<circle cx="121.5" cy="200.4" r="3.8" fill="#e5534f"/>
<circle cx="194.4" cy="211.5" r="3.8" fill="#e5534f"/>
<circle cx="258.6" cy="217.4" r="3.8" fill="#e5534f"/>
<circle cx="266.8" cy="226.1" r="3.8" fill="#e5534f"/>
<circle cx="472.4" cy="235.6" r="3.8" fill="#e5534f"/>
<circle cx="541.1" cy="230.0" r="3.8" fill="#e5534f"/>
<circle cx="553.9" cy="233.3" r="3.8" fill="#e5534f"/>
<circle cx="575.9" cy="242.8" r="4.2" fill="#e5534f" stroke="#ffffff" stroke-width="1.4"/>
<text x="7.6" y="28.7" class="yl" fill="#c94848" stroke="#c94848" stroke-width="0.35" textLength="55.0" lengthAdjust="spacingAndGlyphs">3311.50</text>
<text x="7.6" y="96.2" class="yl" fill="#c94848" stroke="#c94848" stroke-width="0.35" textLength="55.0" lengthAdjust="spacingAndGlyphs">3302.39</text>
<text x="7.6" y="162.6" class="yl" fill="#a3a4a6" stroke="#a3a4a6" stroke-width="0.35" textLength="55.0" lengthAdjust="spacingAndGlyphs">3293.28</text>
<text x="7.6" y="229.9" class="yl" fill="#2ea33f" stroke="#2ea33f" stroke-width="0.35" textLength="55.0" lengthAdjust="spacingAndGlyphs">3284.17</text>
<text x="7.6" y="297.5" class="yl" fill="#2ea33f" stroke="#2ea33f" stroke-width="0.35" textLength="55.0" lengthAdjust="spacingAndGlyphs">3275.06</text>
<text x="67.8" y="414" class="tl" textLength="38.8" lengthAdjust="spacingAndGlyphs">09:30</text>
<text x="308" y="414" class="tl" textLength="38.8" lengthAdjust="spacingAndGlyphs">10:30</text>
<text x="565.2" y="414" class="tl" textLength="38.8" lengthAdjust="spacingAndGlyphs">11:30</text>
</svg>
</body></html>
